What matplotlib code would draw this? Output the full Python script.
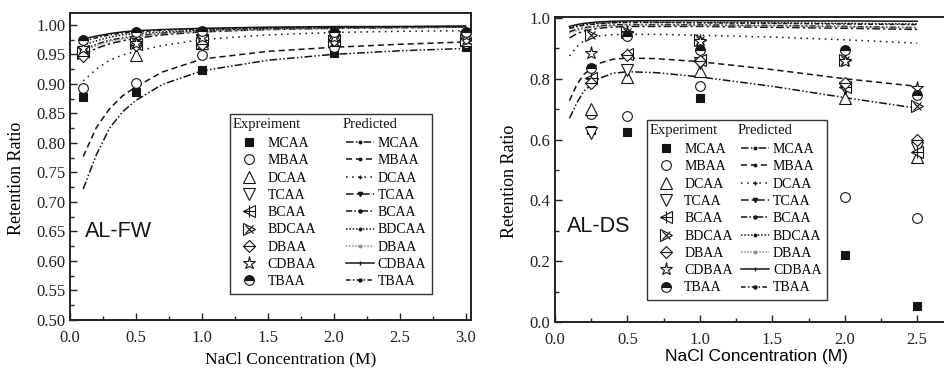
import matplotlib
matplotlib.use("Agg")
import matplotlib.pyplot as plt
from matplotlib.lines import Line2D
from matplotlib.legend_handler import HandlerTuple
from matplotlib.ticker import MultipleLocator, FormatStrFormatter

compounds = ["MCAA", "MBAA", "DCAA", "TCAA", "BCAA", "BDCAA", "DBAA", "CDBAA", "TBAA"]

# ---- AL-FW panel: measured points ----
fw_x = [0.1, 0.5, 1.0, 2.0, 3.0]
fw_mcaa = [0.877, 0.886, 0.923, 0.953, 0.963]
fw_mbaa = [0.893, 0.901, 0.949, 0.962, 0.969]
fw_dcaa = [0.955, 0.949, 0.970, 0.975, 0.975]
fw_tcaa = [0.950, 0.965, 0.975, 0.980, 0.980]
fw_bcaa = [0.955, 0.968, 0.975, 0.975, 0.978]
fw_bdcaa = [0.953, 0.970, 0.970, 0.972, 0.975]
fw_dbaa = [0.948, 0.965, 0.968, 0.975, 0.978]
fw_cdbaa = [0.960, 0.970, 0.980, 0.980, 0.982]
fw_tbaa = [0.975, 0.988, 0.990, 0.988, 0.988]

# ---- AL-FW panel: predicted curves ----
fw_px = [0.1, 0.2, 0.3, 0.4, 0.5, 0.7, 1.0, 1.5, 2.0, 2.5, 3.0]
fw_p_mcaa = [0.722, 0.780, 0.825, 0.853, 0.872, 0.899, 0.922, 0.940, 0.950, 0.956, 0.960]
fw_p_mbaa = [0.777, 0.826, 0.858, 0.880, 0.895, 0.920, 0.942, 0.955, 0.962, 0.967, 0.971]
fw_p_dcaa = [0.905, 0.925, 0.940, 0.949, 0.955, 0.965, 0.975, 0.983, 0.987, 0.989, 0.990]
fw_p_tcaa = [0.950, 0.960, 0.968, 0.973, 0.977, 0.983, 0.988, 0.992, 0.994, 0.995, 0.996]
fw_p_bcaa = [0.958, 0.967, 0.974, 0.978, 0.981, 0.986, 0.990, 0.993, 0.995, 0.996, 0.996]
fw_p_bdcaa = [0.965, 0.973, 0.979, 0.983, 0.985, 0.988, 0.991, 0.994, 0.995, 0.996, 0.997]
fw_p_dbaa = [0.955, 0.965, 0.972, 0.976, 0.980, 0.985, 0.989, 0.992, 0.994, 0.995, 0.996]
fw_p_cdbaa = [0.976, 0.981, 0.985, 0.988, 0.990, 0.992, 0.994, 0.996, 0.997, 0.997, 0.998]
fw_p_tbaa = [0.972, 0.978, 0.983, 0.986, 0.988, 0.991, 0.993, 0.995, 0.996, 0.997, 0.997]

# ---- AL-DS panel: measured points ----
ds_x = [0.25, 0.5, 1.0, 2.0, 2.5]
ds_mcaa = [0.632, 0.626, 0.738, 0.220, 0.052]
ds_mbaa = [0.685, 0.676, 0.775, 0.412, 0.341]
ds_dcaa = [0.700, 0.805, 0.824, 0.736, 0.544]
ds_tcaa = [0.621, 0.830, 0.852, 0.769, 0.571]
ds_bcaa = [0.802, 0.880, 0.863, 0.773, 0.560]
ds_bdcaa = [0.945, 0.955, 0.929, 0.863, 0.709]
ds_dbaa = [0.786, 0.879, 0.857, 0.786, 0.599]
ds_cdbaa = [0.885, 0.950, 0.923, 0.857, 0.769]
ds_tbaa = [0.835, 0.940, 0.896, 0.896, 0.747]

# ---- AL-DS panel: predicted curves ----
ds_px = [0.1, 0.15, 0.2, 0.3, 0.4, 0.5, 0.7, 1.0, 1.5, 2.0, 2.5]
ds_p_mcaa = [0.670, 0.720, 0.760, 0.800, 0.818, 0.823, 0.820, 0.806, 0.775, 0.738, 0.703]
ds_p_mbaa = [0.728, 0.780, 0.815, 0.850, 0.864, 0.868, 0.866, 0.856, 0.830, 0.800, 0.775]
ds_p_dcaa = [0.875, 0.905, 0.925, 0.940, 0.945, 0.946, 0.946, 0.943, 0.937, 0.928, 0.917]
ds_p_tcaa = [0.934, 0.948, 0.957, 0.966, 0.970, 0.972, 0.972, 0.972, 0.969, 0.966, 0.962]
ds_p_bcaa = [0.955, 0.962, 0.968, 0.974, 0.977, 0.978, 0.978, 0.977, 0.975, 0.972, 0.968]
ds_p_bdcaa = [0.968, 0.974, 0.979, 0.983, 0.985, 0.986, 0.986, 0.985, 0.984, 0.982, 0.980]
ds_p_dbaa = [0.950, 0.958, 0.965, 0.971, 0.974, 0.976, 0.976, 0.975, 0.973, 0.970, 0.967]
ds_p_cdbaa = [0.972, 0.978, 0.982, 0.987, 0.989, 0.990, 0.991, 0.991, 0.990, 0.990, 0.989]
ds_p_tbaa = [0.965, 0.971, 0.976, 0.981, 0.984, 0.985, 0.985, 0.984, 0.982, 0.980, 0.978]

fw_exp = [fw_mcaa, fw_mbaa, fw_dcaa, fw_tcaa, fw_bcaa, fw_bdcaa, fw_dbaa, fw_cdbaa, fw_tbaa]
fw_pred = [fw_p_mcaa, fw_p_mbaa, fw_p_dcaa, fw_p_tcaa, fw_p_bcaa, fw_p_bdcaa, fw_p_dbaa, fw_p_cdbaa, fw_p_tbaa]
ds_exp = [ds_mcaa, ds_mbaa, ds_dcaa, ds_tcaa, ds_bcaa, ds_bdcaa, ds_dbaa, ds_cdbaa, ds_tbaa]
ds_pred = [ds_p_mcaa, ds_p_mbaa, ds_p_dcaa, ds_p_tcaa, ds_p_bcaa, ds_p_bdcaa, ds_p_dbaa, ds_p_cdbaa, ds_p_tbaa]

K = "#141414"
SERIF = "Liberation Serif"
SANS = "Liberation Sans"
plt.rcParams["font.family"] = SERIF

# marker layers per compound: (marker, size, filled, fillstyle)
marker_styles = [
    [("s", 6.0, True, "full")],
    [("o", 7.0, False, "full")],
    [("^", 8.0, False, "full")],
    [("v", 8.0, False, "full")],
    [("<", 8.0, False, "full"), ("+", 8.0, False, "full")],
    [(">", 8.0, False, "full"), ("x", 6.0, False, "full")],
    [("D", 6.0, False, "full"), ("_", 8.0, False, "full")],
    [("*", 9.5, False, "full")],
    [("o", 7.0, True, "top")],
]
# predicted line styles: (dash, color, legend marker, legend marker size)
line_styles = [
    ((0, (5, 1.5, 1, 1.5, 1, 1.5)), K, "o", 1.8),
    ((0, (4, 2.5)), K, "o", 1.8),
    ((0, (1, 3)), K, "+", 3.5),
    ((0, (5, 2, 1.5, 2)), K, "v", 3.0),
    ((0, (4, 1.5, 1, 1.5, 1, 1.5)), K, "o", 2.2),
    ((0, (1, 1.2)), K, "o", 1.8),
    ((0, (1, 1)), "0.55", "o", 1.8),
    ("-", K, "|", 3.0),
    ((0, (3, 1.5, 1, 1.5)), K, "o", 2.2),
]


def draw_panel(ax, xs, exp_vals, pxs, pred_vals):
    exp_handles = []
    pred_handles = []
    for i in range(len(compounds)):
        dash, col, lm, lms = line_styles[i]
        ax.plot(pxs, pred_vals[i], linestyle=dash, color=col, linewidth=1.1, zorder=2)
        pred_handles.append(Line2D([], [], linestyle=dash, color=col, linewidth=1.1,
                                   marker=lm, markersize=lms, markeredgecolor=col,
                                   markerfacecolor=col))
        layers = []
        for m, ms, filled, fs in marker_styles[i]:
            h, = ax.plot(xs, exp_vals[i], linestyle="none", marker=m, markersize=ms,
                         markeredgecolor=K, markeredgewidth=0.8,
                         markerfacecolor=K if filled else "white",
                         fillstyle=fs, markerfacecoloralt="white", zorder=3)
            layers.append(h)
        exp_handles.append(tuple(layers) if len(layers) > 1 else layers[0])
    return exp_handles, pred_handles


def style_axes(ax):
    for s in ax.spines.values():
        s.set_linewidth(1.4)
        s.set_color("#222222")
    ax.tick_params(which="both", direction="in", top=False, right=False,
                   labelsize=12, width=1.0, colors="#222222")
    ax.tick_params(which="major", length=5)
    ax.tick_params(which="minor", length=3)
    ax.tick_params(axis="x", pad=7)
    for lab in ax.get_xticklabels() + ax.get_yticklabels():
        lab.set_fontfamily(SERIF)


def make_legend(ax, exp_h, pred_h, anchor, colspace):
    blank = Line2D([], [], linestyle="none")
    handles = [blank] + exp_h + [blank] + pred_h
    labels = [" "] + compounds + [" "] + compounds
    leg = ax.legend(handles, labels, ncol=2, loc="lower left", bbox_to_anchor=anchor,
                    borderaxespad=0, frameon=True, fancybox=False, framealpha=1,
                    edgecolor="#333333", handlelength=2.0,
                    handletextpad=0.3, labelspacing=0.31, columnspacing=colspace,
                    borderpad=0.4, numpoints=1,
                    handler_map={tuple: HandlerTuple(ndivide=1, pad=0)},
                    prop={"family": SERIF, "size": 10})
    leg.get_frame().set_linewidth(1.0)
    leg.set_zorder(5)
    return leg


W, H = 944, 369
fig = plt.figure(figsize=(W / 100, H / 100), dpi=100)

# left panel
ax1 = fig.add_axes([70 / W, 1 - 320 / H, 401 / W, 307 / H])
e1, p1 = draw_panel(ax1, fw_x, fw_exp, fw_px, fw_pred)
ax1.set_xlim(0, 3.04)
ax1.set_ylim(0.5, 1.02)
ax1.xaxis.set_major_locator(MultipleLocator(0.5))
ax1.xaxis.set_minor_locator(MultipleLocator(0.25))
ax1.yaxis.set_major_locator(MultipleLocator(0.05))
ax1.yaxis.set_minor_locator(MultipleLocator(0.025))
ax1.xaxis.set_major_formatter(FormatStrFormatter("%.1f"))
ax1.yaxis.set_major_formatter(FormatStrFormatter("%.2f"))
style_axes(ax1)
ax1.set_ylabel("Retention Ratio", fontsize=13, family=SERIF)
ax1.yaxis.set_label_coords(-0.113, 0.46)
ax1.set_xlabel("NaCl Concentration (M)", fontsize=12.5, family=SERIF, va="top")
ax1.xaxis.set_label_coords(0.549, -0.102)
ax1.text(0.037, 0.27, "AL-FW", transform=ax1.transAxes, fontsize=15.5,
         family=SANS, color=K, va="baseline")
leg1 = make_legend(ax1, e1, p1, (0.399, 0.085), 2.15)

# right panel
ax2 = fig.add_axes([555 / W, 1 - 322 / H, 392 / W, 305 / H])
e2, p2 = draw_panel(ax2, ds_x, ds_exp, ds_px, ds_pred)
ax2.set_xlim(0, 2.706)
ax2.set_ylim(0, 1.003)
ax2.xaxis.set_major_locator(MultipleLocator(0.5))
ax2.xaxis.set_minor_locator(MultipleLocator(0.25))
ax2.yaxis.set_major_locator(MultipleLocator(0.2))
ax2.yaxis.set_minor_locator(MultipleLocator(0.1))
ax2.xaxis.set_major_formatter(FormatStrFormatter("%.1f"))
ax2.yaxis.set_major_formatter(FormatStrFormatter("%.1f"))
style_axes(ax2)
ax2.set_ylabel("Retention Ratio", fontsize=13, family=SERIF)
ax2.yaxis.set_label_coords(-0.095, 0.46)
ax2.set_xlabel("NaCl Concentration (M)", fontsize=12.5, family=SANS, va="top")
ax2.xaxis.set_label_coords(0.514, -0.09)
ax2.text(0.031, 0.295, "AL-DS", transform=ax2.transAxes, fontsize=15.5,
         family=SANS, color=K, va="baseline")
leg2 = make_legend(ax2, e2, p2, (0.234, 0.072), 0.6)

# column headers aligned with the handle column
fig.canvas.draw()
for leg, heads in ((leg1, ("Expreiment", "Predicted")), (leg2, ("Experiment", "Predicted"))):
    texts = leg.get_texts()
    shift = (2.0 + 0.3) * 10 * fig.dpi / 72
    for col, head in enumerate(heads):
        first = texts[col * 10 + 1].get_window_extent()
        second = texts[col * 10 + 2].get_window_extent()
        step = (first.y0 + first.y1) / 2 - (second.y0 + second.y1) / 2
        x = first.x0 - shift - 3
        y = (first.y0 + first.y1) / 2 + step + 2
        fig.text(x / W, y / H, head, fontsize=10.5, family=SERIF, color=K,
                 va="center", ha="left", zorder=10)

fig.savefig("out.png", dpi=100)
